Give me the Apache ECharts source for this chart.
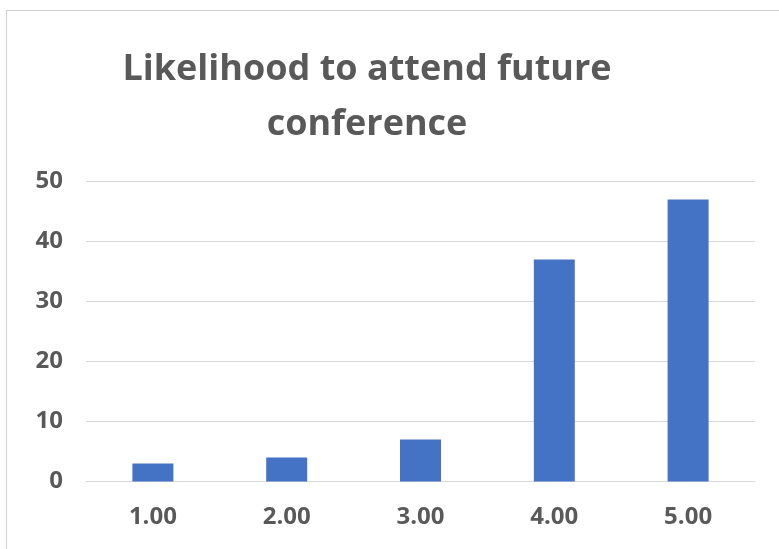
<!DOCTYPE html>
<html>
<head>
<meta charset="utf-8">
<script src="https://cdn.jsdelivr.net/npm/echarts@6/dist/echarts.min.js"></script>
<style>
  html, body { margin: 0; padding: 0; background: #fff; }
  #chart { width: 779px; height: 549px; position: relative; }
  .frame { position: absolute; left: 6px; top: 10px; width: 800px; height: 600px; border: 1px solid #d0d0d0; pointer-events: none; }
</style>
</head>
<body>
<div id="chart"></div>
<div class="frame"></div>
<script>
const categories = ['1.00', '2.00', '3.00', '4.00', '5.00']
const counts = [3, 4, 7, 37, 47]
const yTicks = { min: 0, max: 50, interval: 10 }

const chart = echarts.init(document.getElementById('chart'))
const option = {
  backgroundColor: '#fff',
  title: {
    text: 'Likelihood to attend future\nconference',
    left: 362,
    top: 37,
    textAlign: 'center',
    textStyle: {
      fontFamily: 'Open Sans',
      fontWeight: 'bold',
      fontSize: 36,
      lineHeight: 55,
      color: '#595959'
    }
  },
  grid: { left: 86, right: 24, top: 181.5, bottom: 67.5, containLabel: false },
  xAxis: {
    type: 'category',
    data: categories,
    axisLine: { lineStyle: { color: '#d9d9d9', width: 1 } },
    axisTick: { show: false },
    axisLabel: { margin: 24, color: '#595959', fontSize: 24, fontWeight: 'bold', fontFamily: 'Open Sans' }
  },
  yAxis: {
    type: 'value',
    min: yTicks.min,
    max: yTicks.max,
    interval: yTicks.interval,
    axisLine: { show: false },
    axisTick: { show: false },
    splitLine: { lineStyle: { color: '#d9d9d9', width: 1 } },
    axisLabel: { margin: 23, color: '#595959', fontSize: 24, fontWeight: 'bold', fontFamily: 'Open Sans' }
  },
  series: [{
    type: 'bar',
    data: counts,
    barWidth: 41,
    itemStyle: { color: '#4472C4' }
  }]
}
chart.setOption(option)
</script>
</body>
</html>
